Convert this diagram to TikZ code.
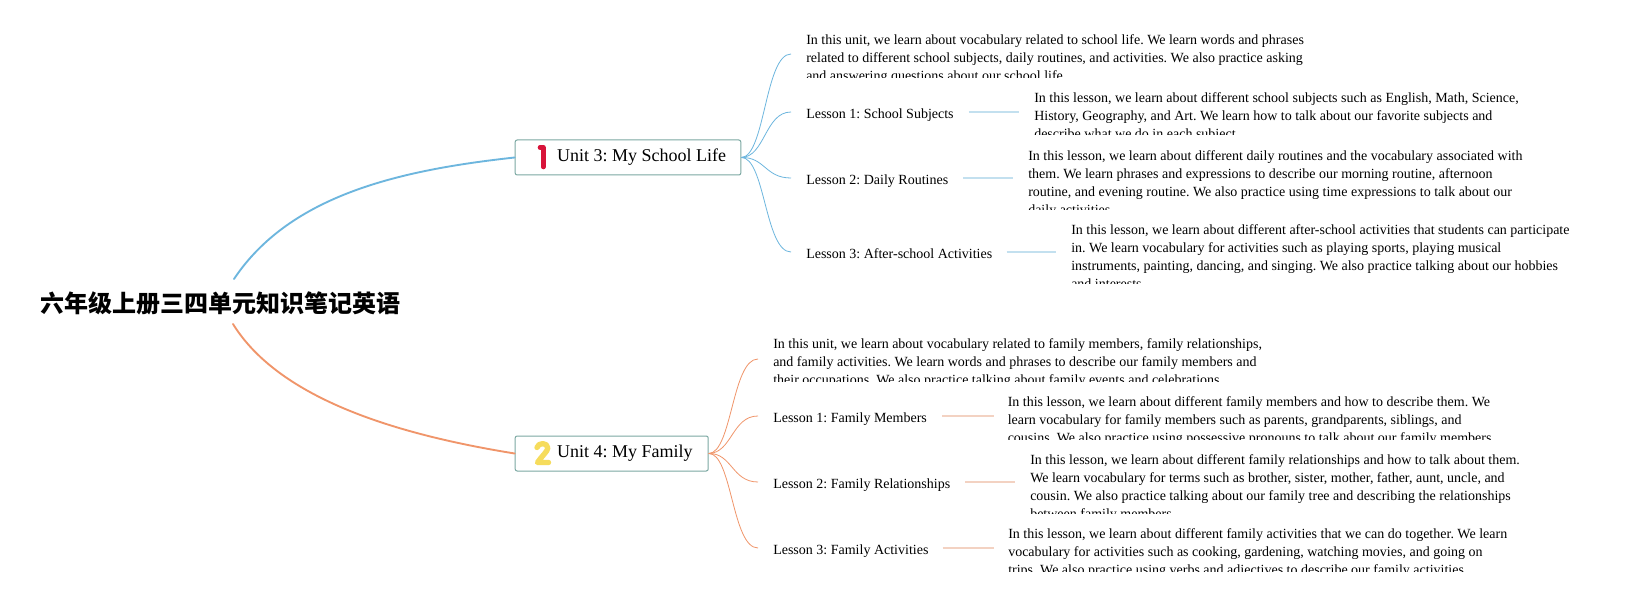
\documentclass[tikz,border=0pt]{standalone}
\usepackage{fontspec}
\setmainfont{Liberation Serif}
\newfontfamily\cjkfont{Noto Sans CJK SC}
\usetikzlibrary{calc}
\definecolor{blueM}{HTML}{6DB6DE}
\definecolor{blueL}{HTML}{C3E0EF}
\definecolor{orangeM}{HTML}{F0956A}
\definecolor{orangeL}{HTML}{F3D2C2}
\definecolor{boxline}{HTML}{7BA8A2}
\definecolor{oneRed}{HTML}{D8143A}
\definecolor{twoYellow}{HTML}{F6DC5C}
\newdimen\pxu \pxu=0.75pt
\frenchspacing
\tikzset{
  x=0.75pt,y=-0.75pt,
  rootnode/.style={inner sep=0pt,anchor=center,font=\frenchspacing\cjkfont\bfseries\fontsize{18pt}{24pt}\selectfont},
  unitbox/.style={draw=boxline,fill=white,line width=0.75pt,rounded corners=1.5pt,inner sep=0pt,anchor=north west,minimum height=35\pxu,font=\frenchspacing\fontsize{13.5pt}{16pt}\selectfont},
  lessonnode/.style={inner sep=0pt,anchor=base west,text height=7.5pt,text depth=2.5pt,font=\frenchspacing\fontsize{10.5pt}{13.5pt}\selectfont},
  detailnode/.style={inner sep=0pt,anchor=north west,align=left,font=\frenchspacing\fontsize{10.5pt}{13.5pt}\selectfont},
  mainblue/.style={draw=blueM,line width=1.4pt,line cap=round},
  mainorange/.style={draw=orangeM,line width=1.4pt,line cap=round},
  subblue/.style={draw=blueM,line width=0.6pt},
  suborange/.style={draw=orangeM,line width=0.6pt},
  leafblue/.style={draw=blueL,line width=1.7pt},
  leaforange/.style={draw=orangeL,line width=1.7pt},
}
\newcommand\detailtext[6]{% name, x, top, clipbottom, text
  \begin{scope}
    \clip (#2,#3) rectangle (#2+520,#4);
    \node[detailnode] (#1) at (#2,#3+#6) {#5};
  \end{scope}}
\begin{document}
\begin{tikzpicture}
\useasboundingbox (0,0) rectangle (1631,602);
\fill[white] (0,0) rectangle (1631,602);

\node[rootnode] (root) at (220.5,303) {六年级上册三四单元知识笔记英语};
\coordinate (rb) at (234,279);
\coordinate (ro) at (233,324);

% Units
\node[unitbox] (u3) at (514.7,139.5) {\makebox[225.6\pxu][l]{\hspace*{42\pxu}\raisebox{1.5\pxu}{Unit 3: My School Life}}};
\node[unitbox] (u4) at (514.7,435.5) {\makebox[193\pxu][l]{\hspace*{42\pxu}\raisebox{1.5\pxu}{Unit 4: My Family}}};

\draw[mainblue] (rb) .. controls (290,195) and (400,170) .. (u3.west);
\draw[mainorange] (ro) .. controls (280,400) and (400,435) .. (u4.west);

% badge icons
\draw[oneRed,line width=3.4pt,line cap=round,line join=round] (540,147.5) -- (543.3,147.5) -- (543.3,167);
\draw[twoYellow,line width=4pt,line cap=round,line join=round]
  (537,447.5) .. controls (538,442.5) and (547.5,442) .. (547.8,448)
  .. controls (548,451) and (541,457) .. (537.5,462.5) -- (548.5,462.5);

% Unit 3 detail + lessons
\coordinate (c30) at (791,54);
\coordinate (c31) at (791,112);
\coordinate (c32) at (791,178);
\coordinate (c33) at (791,252);
\node[lessonnode] (l31) at (806,118.5) {Lesson 1: School Subjects};
\node[lessonnode] (l32) at (806,184.5) {Lesson 2: Daily Routines};
\node[lessonnode] (l33) at (806,258.5) {Lesson 3: After-school Activities};
\foreach \c/\y in {c30/54,c31/112,c32/178,c33/252}
  \draw[subblue] (u3.east) .. controls (765,157) and (765,\y) .. (\c);

\detailtext{d30}{806}{30}{77.5}{In this unit, we learn about vocabulary related to school life. We learn words and phrases\\related to different school subjects, daily routines, and activities. We also practice asking\\and answering questions about our school life.}{4}
\detailtext{d31}{1034}{88}{135}{In this lesson, we learn about different school subjects such as English, Math, Science,\\History, Geography, and Art. We learn how to talk about our favorite subjects and\\describe what we do in each subject.}{4}
\detailtext{d32}{1028}{146}{209.5}{In this lesson, we learn about different daily routines and the vocabulary associated with\\them. We learn phrases and expressions to describe our morning routine, afternoon\\routine, and evening routine. We also practice using time expressions to talk about our\\daily activities.}{4}
\detailtext{d33}{1071}{220}{283.5}{In this lesson, we learn about different after-school activities that students can participate\\in. We learn vocabulary for activities such as playing sports, playing musical\\instruments, painting, dancing, and singing. We also practice talking about our hobbies\\and interests.}{4}

\draw[leafblue] ($(l31.east)+(15,-3.5)$) -- ($(l31.east -| d31.west)+(-15,-3.5)$);
\draw[leafblue] ($(l32.east)+(15,-3.5)$) -- ($(l32.east -| d32.west)+(-15,-3.5)$);
\draw[leafblue] ($(l33.east)+(14,-3.5)$) -- ($(l33.east -| d33.west)+(-15,-3.5)$);

% Unit 4 detail + lessons
\coordinate (c40) at (758,359);
\coordinate (c41) at (758,416);
\coordinate (c42) at (758,482);
\coordinate (c43) at (758,548);
\node[lessonnode] (l41) at (773,422.5) {Lesson 1: Family Members};
\node[lessonnode] (l42) at (773,488.5) {Lesson 2: Family Relationships};
\node[lessonnode] (l43) at (773,554.5) {Lesson 3: Family Activities};
\foreach \c/\y in {c40/359,c41/416,c42/482,c43/548}
  \draw[suborange] (u4.east) .. controls (732,453) and (732,\y) .. (\c);

\detailtext{d40}{773}{334}{381.7}{In this unit, we learn about vocabulary related to family members, family relationships,\\and family activities. We learn words and phrases to describe our family members and\\their occupations. We also practice talking about family events and celebrations.}{4}
\detailtext{d41}{1007.5}{392}{439.7}{In this lesson, we learn about different family members and how to describe them. We\\learn vocabulary for family members such as parents, grandparents, siblings, and\\cousins. We also practice using possessive pronouns to talk about our family members.}{4}
\detailtext{d42}{1030}{450}{513.3}{In this lesson, we learn about different family relationships and how to talk about them.\\We learn vocabulary for terms such as brother, sister, mother, father, aunt, uncle, and\\cousin. We also practice talking about our family tree and describing the relationships\\between family members.}{4}
\detailtext{d43}{1008}{524}{571}{In this lesson, we learn about different family activities that we can do together. We learn\\vocabulary for activities such as cooking, gardening, watching movies, and going on\\trips. We also practice using verbs and adjectives to describe our family activities.}{4}

\draw[leaforange] ($(l41.east)+(15,-3.5)$) -- ($(l41.east -| d41.west)+(-14,-3.5)$);
\draw[leaforange] ($(l42.east)+(15,-3.5)$) -- ($(l42.east -| d42.west)+(-15,-3.5)$);
\draw[leaforange] ($(l43.east)+(14,-3.5)$) -- ($(l43.east -| d43.west)+(-14,-3.5)$);
\end{tikzpicture}
\end{document}
